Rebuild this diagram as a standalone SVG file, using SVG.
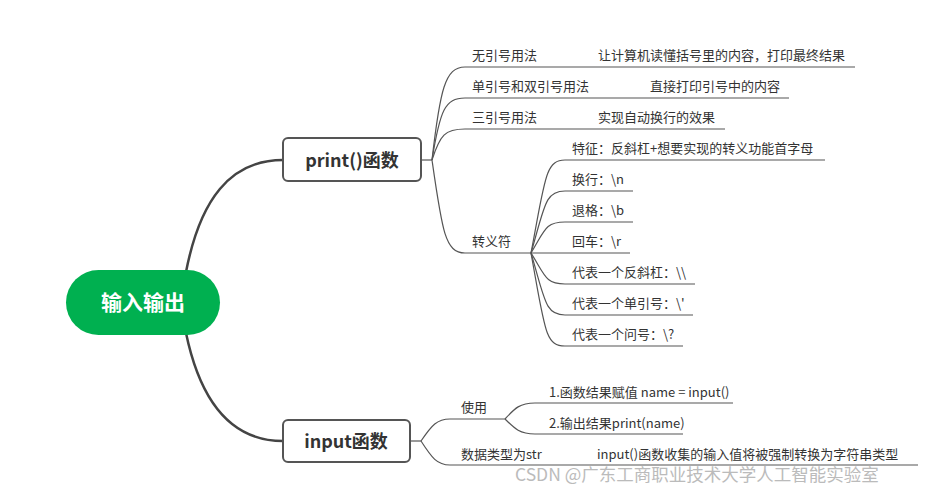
<svg xmlns="http://www.w3.org/2000/svg" width="942" height="493" viewBox="0 0 942 493">
<style>
text{font-family:"Noto Sans CJK SC","Liberation Sans",sans-serif;fill:#333}
.t{font-size:13px}
.l{fill:none;stroke:#555;stroke-width:1.2}
.m{fill:none;stroke:#444;stroke-width:2.5}
</style>
<rect width="942" height="493" fill="#fff"/>
<g id="connectors">
<path class="m" d="M186,272 C200,200 230,160 283,160"/>
<path class="m" d="M186,333 C200,400 230,441 283,441"/>
<path class="l" d="M421,160 H432"/>
<path class="l" d="M432,160 C440,90 445,67 465,67 H855"/>
<path class="l" d="M432,160 C440,110 445,98 465,98 H789"/>
<path class="l" d="M432,160 C440,135 445,129 465,129 H725"/>
<path class="l" d="M432,160 C442,230 445,253 465,253 H531"/>
<path class="l" d="M531,253 C545,180 545,160 565,160 H825"/>
<path class="l" d="M531,253 C545,205 545,191 565,191 H633"/>
<path class="l" d="M531,253 C545,230 545,222 565,222 H633"/>
<path class="l" d="M531,253 H630"/>
<path class="l" d="M531,253 C545,275 545,284 565,284 H695"/>
<path class="l" d="M531,253 C545,300 545,315 565,315 H693"/>
<path class="l" d="M531,253 C545,330 545,346 565,346 H683"/>
<path class="l" d="M410,441 H421"/>
<path class="l" d="M421,441 C432,425 437,419 450,419 H505"/>
<path class="l" d="M421,441 C432,458 437,465 450,465 H918"/>
<path class="l" d="M505,419 C515,408 520,403 535,403 H733"/>
<path class="l" d="M505,419 C515,429 520,434 535,434 H683"/>
</g>
<g id="root"><rect x="66" y="270" width="154" height="65" rx="32.5" fill="#00b050"/><text x="143" y="310" text-anchor="middle" style="font-size:21px;font-weight:bold;fill:#fff">输入输出</text></g>
<g id="print"><rect x="283" y="138" width="138" height="43" rx="5" fill="#fff" stroke="#555" stroke-width="2"/><text x="352" y="167" text-anchor="middle" style="font-size:18px;font-weight:bold">print()函数</text></g>
<g id="input"><rect x="283" y="420" width="127" height="42" rx="5" fill="#fff" stroke="#555" stroke-width="2"/><text x="346" y="448" text-anchor="middle" style="font-size:18px;font-weight:bold">input函数</text></g>
<g id="labels" class="t">
<text class="t" x="472" y="60">无引号用法</text><text class="t" x="598" y="60">让计算机读懂括号里的内容，打印最终结果</text>
<text class="t" x="472" y="91">单引号和双引号用法</text><text class="t" x="650" y="91">直接打印引号中的内容</text>
<text class="t" x="472" y="122">三引号用法</text><text class="t" x="598" y="122">实现自动换行的效果</text>
<text class="t" x="472" y="246">转义符</text>
<text class="t" x="572" y="153">特征：反斜杠+想要实现的转义功能首字母</text>
<text class="t" x="572" y="184">换行：\n</text>
<text class="t" x="572" y="215">退格：\b</text>
<text class="t" x="572" y="246">回车：\r</text>
<text class="t" x="572" y="277">代表一个反斜杠：\\</text>
<text class="t" x="572" y="308">代表一个单引号：\'</text>
<text class="t" x="572" y="339">代表一个问号：\?</text>
<text class="t" x="461" y="412">使用</text>
<text class="t" x="549" y="397">1.函数结果赋值 name = input()</text>
<text class="t" x="549" y="428">2.输出结果print(name)</text>
<text class="t" x="461" y="459">数据类型为str</text>
<text class="t" x="597" y="459">input()函数收集的输入值将被强制转换为字符串类型</text>
</g>
<text x="515" y="481" style="font-size:17.5px;fill:#bbb">CSDN @广东工商职业技术大学人工智能实验室</text>
</svg>
